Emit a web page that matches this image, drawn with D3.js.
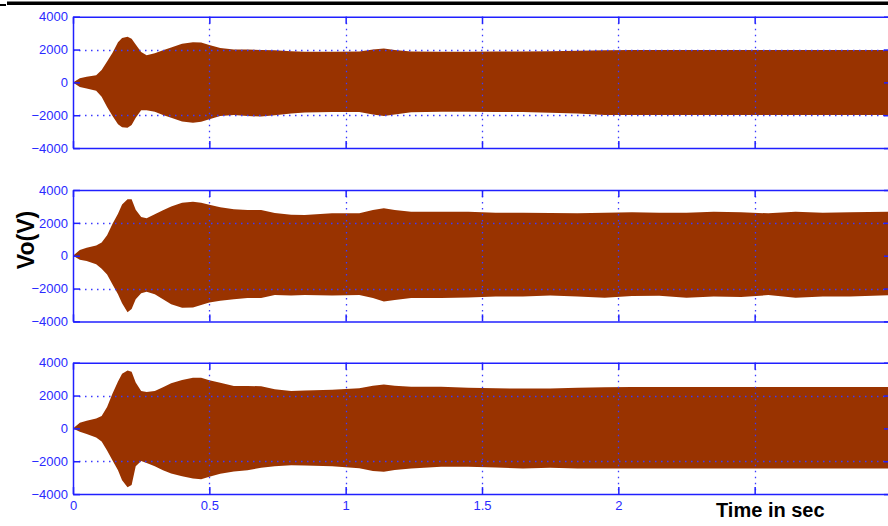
<!DOCTYPE html>
<html>
<head>
<meta charset="utf-8">
<script src="https://cdn.jsdelivr.net/npm/d3@7"></script>
<style>
body { margin:0; background:#fff; }
svg { display:block; font-family:"Liberation Sans", Arial, sans-serif; }
.axis text { fill:#2a2aff; font-size:13px; }
.axis path, .axis line { stroke:#2020ff; }
</style>
</head>
<body>
<div id="graph"></div>
<script>
// time samples (s) where the envelope of the waveform was read
var times = [0, 0.025, 0.05, 0.085, 0.105, 0.125, 0.145, 0.165, 0.18, 0.2, 0.215, 0.23, 0.25, 0.27, 0.3, 0.33, 0.36, 0.4, 0.44, 0.47, 0.5, 0.54, 0.59, 0.64, 0.69, 0.74, 0.8, 0.85, 0.95, 1.05, 1.1, 1.14, 1.18, 1.24, 1.35, 1.45, 1.55, 1.65, 1.75, 1.85, 1.95, 2.05, 2.15, 2.25, 2.35, 2.45, 2.55, 2.65, 2.75, 2.85, 3.0];

// panel 1 envelope (V)
var vo1Max = [0, 260, 340, 440, 750, 1280, 1800, 2450, 2700, 2780, 2650, 2300, 1850, 1660, 1770, 1960, 2120, 2350, 2440, 2430, 2270, 2100, 2010, 2000, 1980, 1950, 1900, 1870, 1870, 1880, 2000, 2070, 1980, 1880, 1870, 1870, 1880, 1880, 1900, 1930, 1960, 1970, 1970, 1970, 1970, 1970, 1970, 1970, 1970, 1970, 1970];
var vo1Min = [0, -280, -370, -510, -880, -1500, -2050, -2550, -2730, -2760, -2600, -2150, -1700, -1690, -1780, -1980, -2150, -2380, -2460, -2400, -2250, -2050, -1990, -2050, -2080, -2000, -1900, -1830, -1800, -1800, -1950, -2050, -1950, -1820, -1790, -1790, -1800, -1800, -1850, -1900, -1980, -1990, -1990, -1990, -1990, -1990, -1990, -1990, -1990, -1990, -1990];

// panel 2 envelope (V)
var vo2Max = [0, 340, 480, 620, 800, 1250, 1950, 2560, 3120, 3430, 3430, 2800, 2350, 2280, 2520, 2770, 3000, 3220, 3290, 3220, 3100, 2950, 2830, 2780, 2780, 2600, 2500, 2480, 2580, 2580, 2780, 2890, 2780, 2680, 2680, 2680, 2620, 2620, 2600, 2580, 2620, 2640, 2620, 2620, 2680, 2650, 2580, 2680, 2620, 2650, 2680];
var vo2Min = [0, -250, -330, -520, -800, -1150, -1750, -2350, -2900, -3450, -3250, -2650, -2280, -2200, -2350, -2650, -2950, -3170, -3150, -3000, -2850, -2750, -2650, -2580, -2580, -2400, -2420, -2400, -2430, -2400, -2580, -2790, -2690, -2580, -2580, -2540, -2480, -2480, -2420, -2480, -2560, -2450, -2440, -2560, -2480, -2520, -2400, -2560, -2480, -2480, -2400];

// panel 3 envelope (V)
var vo3Max = [0, 340, 470, 600, 750, 1300, 2130, 2850, 3330, 3530, 3450, 2800, 2270, 2220, 2280, 2500, 2750, 2950, 3090, 3090, 2930, 2780, 2580, 2580, 2570, 2380, 2270, 2300, 2350, 2450, 2600, 2680, 2600, 2530, 2530, 2470, 2440, 2430, 2430, 2470, 2500, 2520, 2520, 2520, 2520, 2520, 2520, 2520, 2520, 2520, 2520];
var vo3Min = [0, -200, -340, -560, -800, -1350, -1950, -2550, -3150, -3580, -3450, -2300, -1990, -2100, -2300, -2550, -2750, -2920, -3050, -3100, -2950, -2760, -2620, -2550, -2400, -2300, -2240, -2260, -2300, -2420, -2600, -2640, -2540, -2440, -2340, -2340, -2380, -2440, -2400, -2440, -2440, -2440, -2440, -2440, -2440, -2440, -2440, -2440, -2440, -2440, -2440];

var xTicks = [0, 0.5, 1, 1.5, 2, 2.5];
var xTickLabels = ["0", "0.5", "1", "1.5", "2", ""];
var yTicks = [-4000, -2000, 0, 2000, 4000];
var gridY = [-2000, 2000];

var width = 888, height = 526;
var left = 73, right = 891;
var panelTops = [16.7, 190, 362.7];
var panelH = 131.4;
var waveColor = "#993300";
var axisColor = "#2020ff";

var graph = d3.select("div#graph")
	.append("svg")
	.attr("width", width)
	.attr("height", height);

// black rule across the top
graph.append("rect").attr("x", 7).attr("y", 1.5).attr("width", width - 7).attr("height", 3.5).attr("fill", "#000");
graph.append("rect").attr("x", 0).attr("y", 4).attr("width", 6).attr("height", 2).attr("fill", "#000");

var xScale = d3.scaleLinear()
	.domain([0, 3])
	.range([left, right]);

var panels = [
	{max: vo1Max, min: vo1Min},
	{max: vo2Max, min: vo2Min},
	{max: vo3Max, min: vo3Min}
];

panels.forEach(function(p, k) {
	var top = panelTops[k];
	var yScale = d3.scaleLinear()
		.domain([-4000, 4000])
		.range([top + panelH, top]);

	var rows = times.map(function(t, i) { return {t: t, hi: p.max[i], lo: p.min[i]}; });

	var area = d3.area()
		.x(d => xScale(d.t))
		.y0(d => yScale(d.lo))
		.y1(d => yScale(d.hi));

	var g = graph.append("g").attr("class", "panel");

	g.append("path")
		.datum(rows)
		.attr("fill", waveColor)
		.attr("d", area);

	// dotted grid on top of the waveform, like MATLAB
	g.selectAll("line.gy").data(gridY).enter()
		.append("line")
		.attr("class", "gy")
		.attr("x1", left).attr("x2", right)
		.attr("y1", d => Math.round(yScale(d)) + 0.5).attr("y2", d => Math.round(yScale(d)) + 0.5)
		.attr("stroke", "#3a3aff")
		.attr("stroke-width", 1.3)
		.attr("stroke-dasharray", "1.5,4.5");
	g.selectAll("line.gx").data(xTicks.slice(1)).enter()
		.append("line")
		.attr("class", "gx")
		.attr("x1", d => Math.round(xScale(d)) + 0.5).attr("x2", d => Math.round(xScale(d)) + 0.5)
		.attr("y1", top).attr("y2", top + panelH)
		.attr("stroke", "#3a3aff")
		.attr("stroke-width", 1.3)
		.attr("stroke-dasharray", "1.5,4.5");

	var yAxis = d3.axisLeft(yScale)
		.tickValues(yTicks)
		.tickSizeInner(-7)
		.tickSizeOuter(0)
		.tickPadding(5)
		.tickFormat(d3.format("d"));
	var yAxisR = d3.axisRight(yScale)
		.tickValues(yTicks)
		.tickSizeInner(-7)
		.tickSizeOuter(0)
		.tickFormat("");
	var xAxis = d3.axisBottom(xScale)
		.tickValues(xTicks)
		.tickSizeInner(-7)
		.tickSizeOuter(0)
		.tickPadding(7)
		.tickFormat(function(d, i) { return k == 2 ? xTickLabels[i] : ""; });
	var xAxisT = d3.axisTop(xScale)
		.tickValues(xTicks)
		.tickSizeInner(-7)
		.tickSizeOuter(0)
		.tickFormat("");

	g.append("g").attr("class", "axis")
		.attr("transform", `translate(${left},0)`)
		.call(yAxis);
	g.append("g").attr("class", "axis")
		.attr("transform", `translate(${right},0)`)
		.call(yAxisR);
	g.append("g").attr("class", "axis")
		.attr("transform", `translate(0,${top + panelH})`)
		.call(xAxis);
	g.append("g").attr("class", "axis")
		.attr("transform", `translate(0,${top})`)
		.call(xAxisT);
	g.selectAll(".axis path, .axis line").attr("stroke-width", 1.5);
});

graph.append("text")
	.attr("transform", "rotate(-90)")
	.attr("x", -240)
	.attr("y", 34)
	.style("text-anchor", "middle")
	.style("font-weight", "bold")
	.style("font-size", "23px")
	.text("Vo(V)");

graph.append("text")
	.attr("x", 716)
	.attr("y", 517)
	.style("font-weight", "bold")
	.style("font-size", "20px")
	.text("Time in sec");
</script>
</body>
</html>
